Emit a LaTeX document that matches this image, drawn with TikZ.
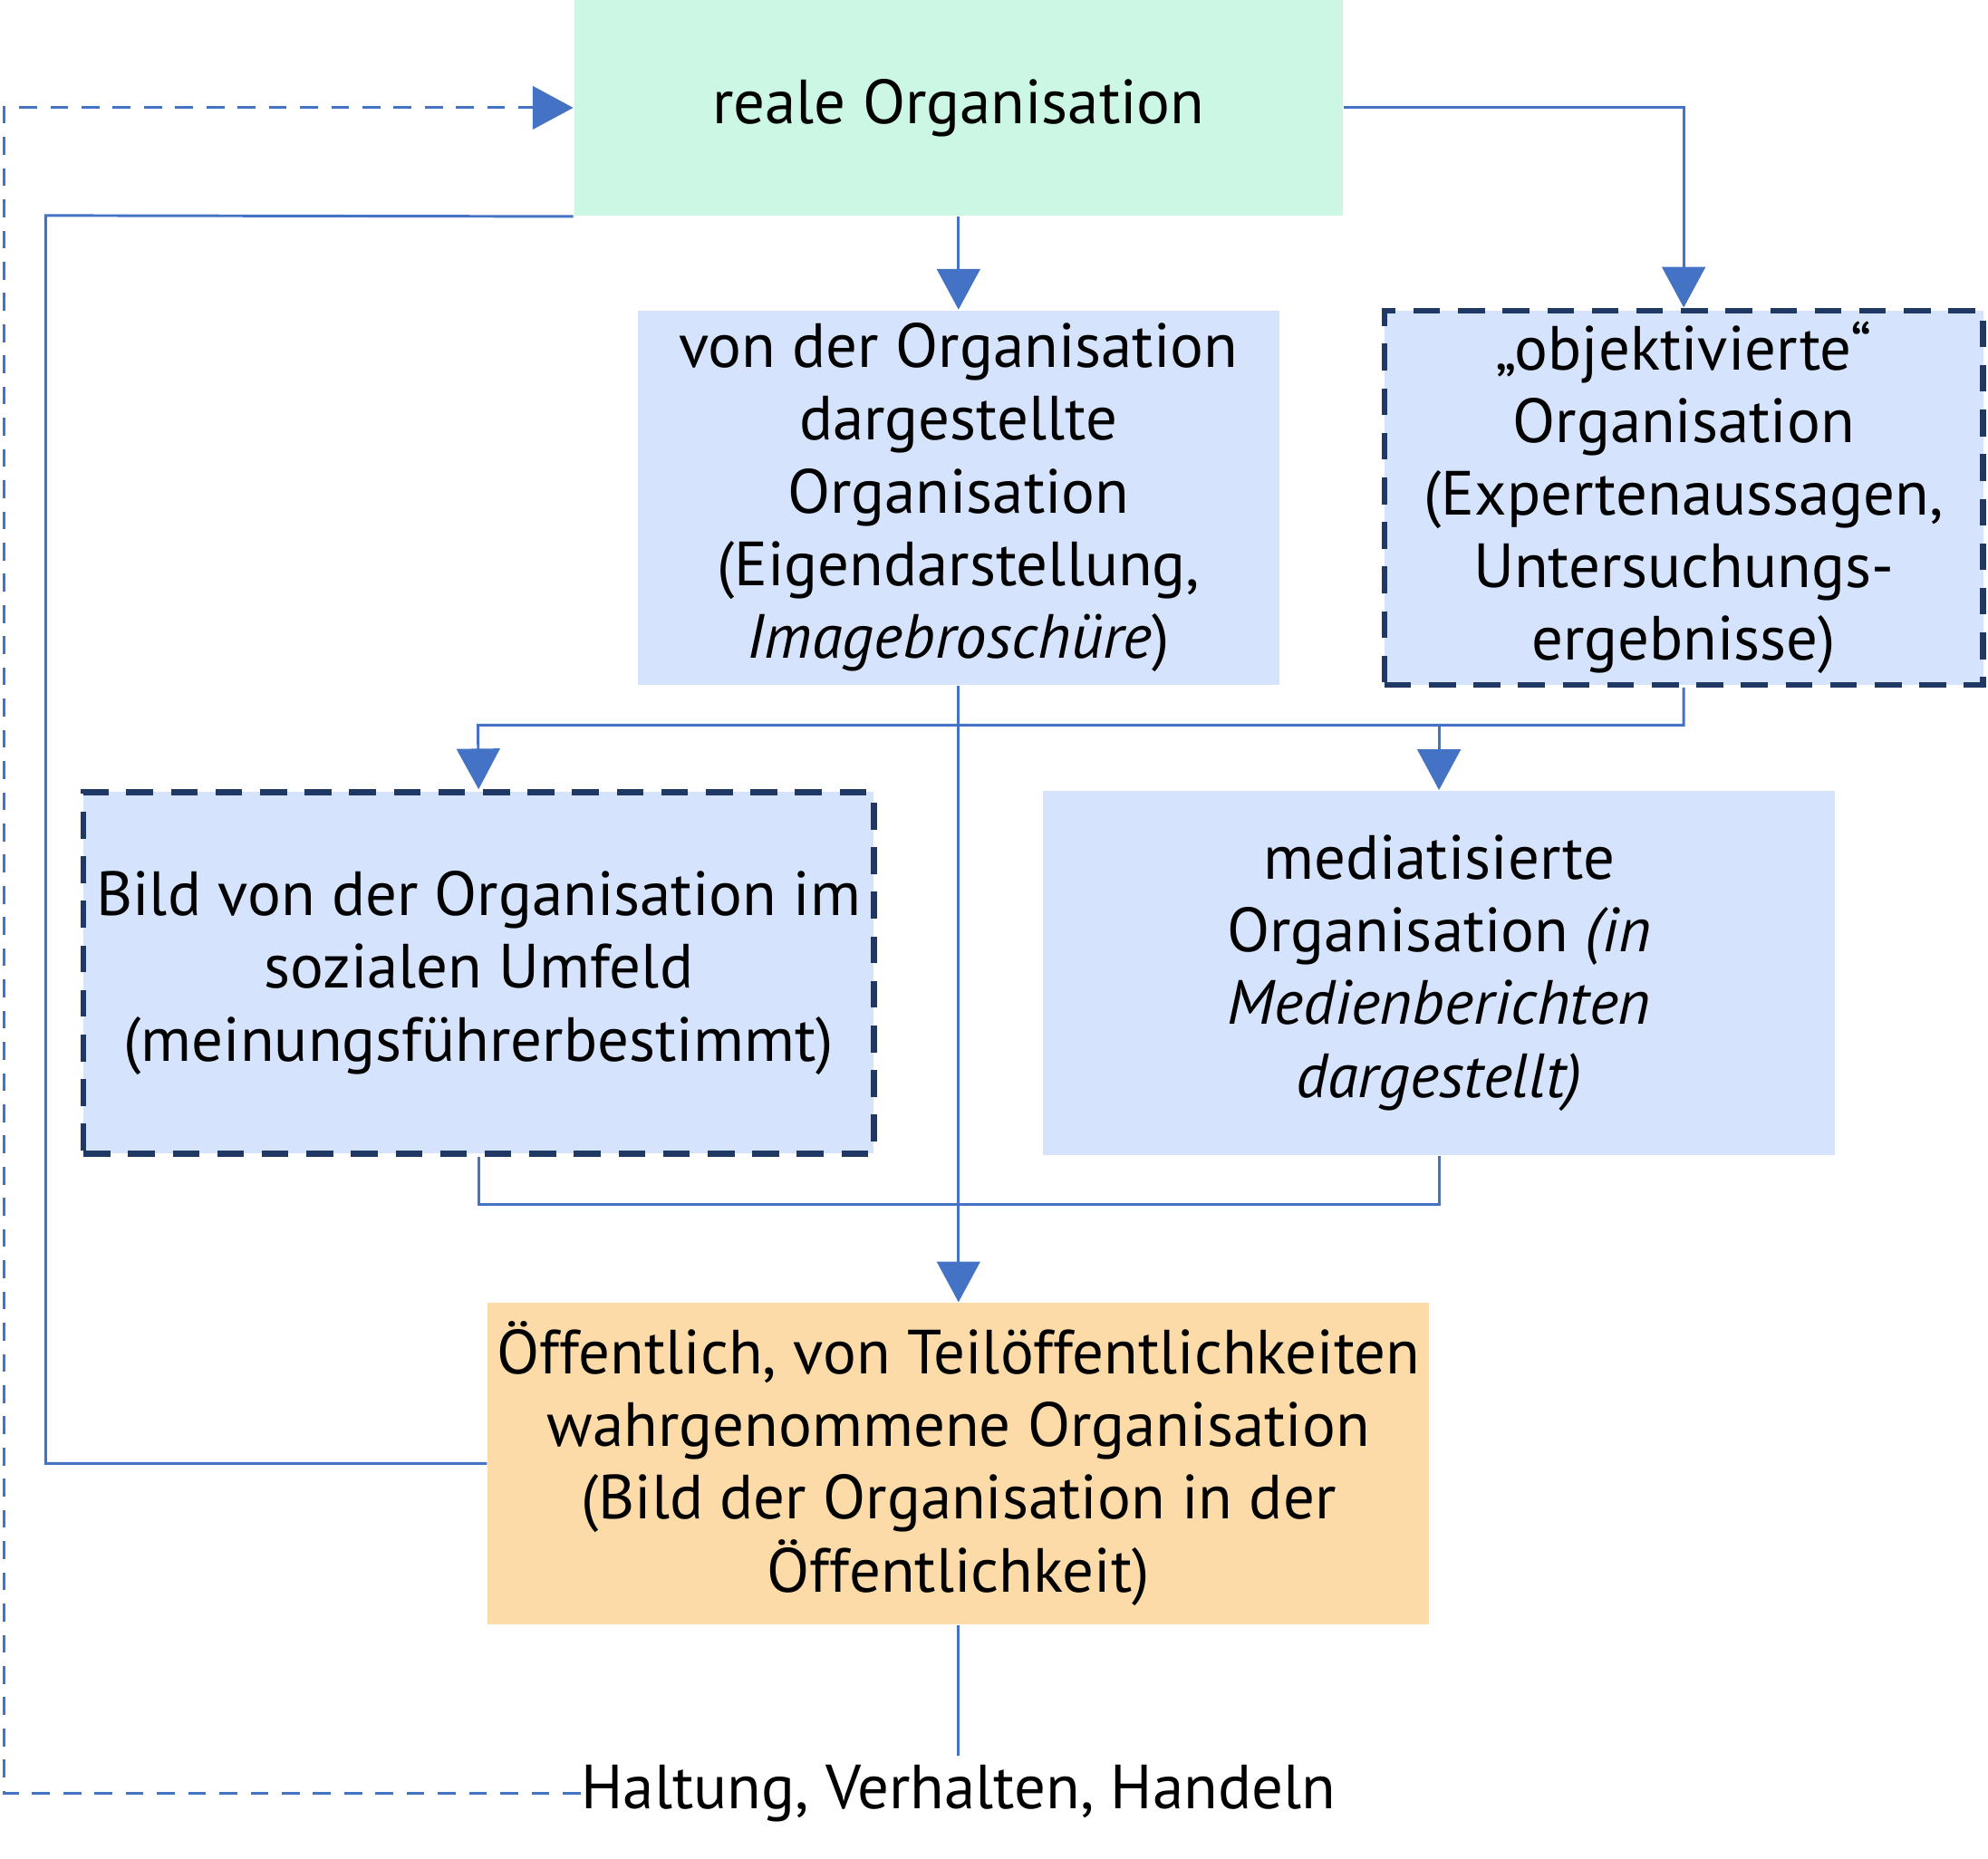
\documentclass[tikz,border=0pt]{standalone}
\usepackage{fontspec}
\setmainfont{PT Sans}
\usetikzlibrary{arrows.meta,positioning}
\definecolor{mint}{HTML}{CCF7E4}
\definecolor{paleblue}{HTML}{D6E3FC}
\definecolor{paleorange}{HTML}{FCDBA8}
\definecolor{linkblue}{HTML}{4472C4}
\definecolor{navy}{HTML}{1F3864}
\tikzset{
    box/.style={draw=none, align=center, inner sep=0pt, font=\fontsize{14}{16.3}\selectfont},
    dashbox/.style={box, draw=navy, line width=1.3pt, dash pattern=on 6pt off 4pt},
    link/.style={draw=linkblue, line width=0.6pt},
    arr/.style={link, -{Triangle[length=0.32cm,width=0.34cm]}},
}
\begin{document}
\begin{tikzpicture}[x=0.01cm, y=-0.01cm]
    \useasboundingbox (0,0) rectangle (1568,1466);

    % Boxes
    \node[box, fill=mint, minimum width=606\pgflinewidth*0+6.06cm, minimum height=1.70cm] (real) at (756,85) {reale Organisation};
    \node[box, fill=paleblue, minimum width=5.06cm, minimum height=2.95cm] (self) at (756,392.5)
        {von der Organisation\\dargestellte\\Organisation\\(Eigendarstellung,\\\textit{Imagebroschüre})};
    \node[dashbox, fill=paleblue, minimum width=4.72cm, minimum height=2.95cm] (obj) at (1328,392.5)
        {„objektivierte“\\Organisation\\(Expertenaussagen,\\Untersuchungs-\\ergebnisse)};
    \node[dashbox, fill=paleblue, minimum width=6.23cm, minimum height=2.85cm] (social) at (377.5,767.5)
        {Bild von der Organisation im\\sozialen Umfeld\\(meinungsführerbestimmt)};
    \node[box, fill=paleblue, minimum width=6.24cm, minimum height=2.87cm] (media) at (1135,767.5)
        {mediatisierte\\Organisation \textit{(in}\\\textit{Medienberichten}\\\textit{dargestellt)}};
    \node[box, fill=paleorange, minimum width=7.42cm, minimum height=2.53cm] (public) at (756,1154.5)
        {Öffentlich, von Teilöffentlichkeiten\\wahrgenommene Organisation\\(Bild der Organisation in der\\Öffentlichkeit)};
    \node[box] (act) at (756,1415) {Haltung, Verhalten, Handeln};

    % Connectors
    \draw[arr] (real.south) -- (self.north);
    \draw[arr] (real.east) -| (obj.north);
    \draw[arr] (obj.south) |- (377,572) -- (social.north);
    \draw[arr] (1135,572) -- (media.north);
    \draw[arr] (self.south) -- (public.north);
    \draw[link] (social.south) |- (1135,950) -- (media.south);
    \draw[link] (public.west) -| (36,170) -- (real.south west);
    \draw[link] (public.south) -- (756,1385);
    \draw[arr, dash pattern=on 4pt off 3pt] (act.west) -| (3,85) -- (real.west);
\end{tikzpicture}
\end{document}
